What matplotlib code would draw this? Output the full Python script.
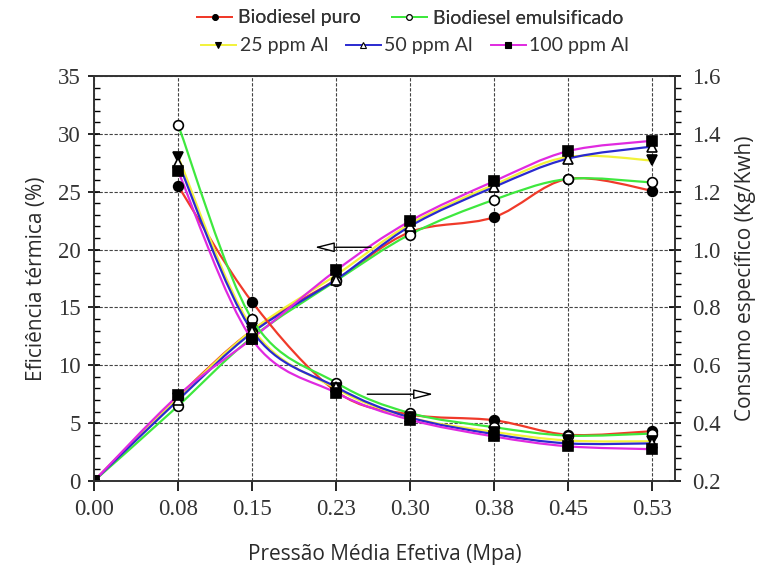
import matplotlib.pyplot as plt
import numpy as np
from matplotlib.path import Path
from matplotlib.patches import PathPatch
from matplotlib.lines import Line2D

# Pressão média efetiva (Mpa)
pressao = [0.00, 0.08, 0.15, 0.23, 0.30, 0.38, 0.45, 0.53]
pressao_labels = ["0.00", "0.08", "0.15", "0.23", "0.30", "0.38", "0.45", "0.53"]

# Eficiência térmica (%)
efic_puro = [0, 7.3, 13.0, 17.4, 21.5, 22.8, 26.1, 25.1]
efic_emuls = [0, 6.5, 12.4, 17.3, 21.3, 24.3, 26.1, 25.8]
efic_25 = [0, 7.2, 13.0, 17.8, 22.2, 25.6, 28.0, 27.7]
efic_50 = [0, 7.0, 12.8, 17.4, 22.0, 25.4, 27.85, 28.9]
efic_100 = [0, 7.4, 12.3, 18.2, 22.45, 25.9, 28.5, 29.4]

# Consumo específico (Kg/Kwh), from 0.08 onwards
cons_puro = [1.22, 0.82, 0.51, 0.43, 0.41, 0.36, 0.372]
cons_emuls = [1.43, 0.76, 0.54, 0.435, 0.386, 0.357, 0.364]
cons_25 = [1.32, 0.73, 0.52, 0.42, 0.37, 0.34, 0.337]
cons_50 = [1.30, 0.72, 0.525, 0.42, 0.362, 0.33, 0.33]
cons_100 = [1.27, 0.69, 0.505, 0.412, 0.354, 0.32, 0.31]

names = ["Biodiesel puro", "Biodiesel emulsificado", "25 ppm Al", "50 ppm Al", "100 ppm Al"]
colors = ['#f03a2a', '#3ee83e', '#f2f23a', '#2a2ad0', '#e02ae0']
markers = ['o', 'o', 'v', '^', 's']
faces = ['black', 'white', 'black', 'white', 'black']

fig = plt.figure(figsize=(7.67, 5.65), dpi=100)
ax = fig.add_axes([94/767, 1-481/565, (675-94)/767, (481-76)/565])
ax2 = ax.twinx()


def smooth(axis, xs, ys, color):
    # catmull-rom spline drawn as bezier path
    p = np.column_stack((xs, ys)).astype(float)
    ext = np.vstack((p[0], p, p[-1]))
    verts = [p[0]]
    codes = [Path.MOVETO]
    for i in range(len(p) - 1):
        p0, p1, p2, p3 = ext[i], ext[i+1], ext[i+2], ext[i+3]
        verts += [p1 + (p2 - p0)/6, p2 - (p3 - p1)/6, p2]
        codes += [Path.CURVE4]*3
    axis.add_patch(PathPatch(Path(verts, codes), fc='none', ec=color, lw=1.6, zorder=3))


effs = [efic_puro, efic_emuls, efic_25, efic_50, efic_100]
cons = [cons_puro, cons_emuls, cons_25, cons_50, cons_100]
for i in range(5):
    smooth(ax, pressao, effs[i], colors[i])
    ax.plot(pressao, effs[i], ls='none', marker=markers[i], ms=7, mfc=faces[i], mec='black', mew=1.2, zorder=4)
    smooth(ax2, pressao[1:], cons[i], colors[i])
    ax2.plot(pressao[1:], cons[i], ls='none', marker=markers[i], ms=7, mfc=faces[i], mec='black', mew=1.2, zorder=4)

ax.set_xlim(0, 0.552)
ax.set_ylim(0, 35)
ax2.set_ylim(0.2, 1.6)
ax.set_xticks(pressao)
ax.set_xticklabels(pressao_labels)
ax.set_yticks(np.arange(0, 36, 5))
ax.set_yticks(np.arange(0, 36, 1), minor=True)
ax2.set_yticks(np.arange(0.2, 1.61, 0.2))
ax2.set_yticks(np.arange(0.2, 1.61, 0.04), minor=True)
ax2.set_yticklabels(["%.1f" % v for v in np.arange(0.2, 1.61, 0.2)])

ax.grid(True, color='#444444', ls=(0, (3, 1.5)), lw=0.8)
ax.set_axisbelow(True)

serif = 'Liberation Serif'
for a in (ax, ax2):
    for lab in a.get_xticklabels() + a.get_yticklabels():
        lab.set_family(serif)
        lab.set_fontsize(16.5)
        lab.set_color('#333333')
    for s in a.spines.values():
        s.set_color('#333333')
        s.set_linewidth(1.2)
ax.tick_params(axis='x', direction='out', length=7, width=1.2, pad=6)
ax.tick_params(axis='y', which='major', direction='inout', length=9, width=1.2, pad=5)
ax.tick_params(axis='y', which='minor', direction='in', length=4, width=1)
ax2.tick_params(axis='y', which='major', direction='inout', length=9, width=1.2, pad=8)
ax2.tick_params(axis='y', which='minor', direction='out', length=4, width=1)

lab_font = dict(family='Open Sans', fontsize=15, color='#2a2a2a')
ax.set_xlabel("Pressão Média Efetiva (Mpa)", labelpad=17, **lab_font)
ax.set_ylabel("Eficiência térmica (%)", labelpad=8, **lab_font)
ax2.set_ylabel("Consumo específico (Kg/Kwh)", labelpad=10, **lab_font)

# arrows pointing to the axes
ax.annotate('', xy=(0.207, 20.2), xytext=(0.266, 20.2),
            arrowprops=dict(arrowstyle='-|>,head_length=1.2,head_width=0.3', fc='white', ec='black', lw=1), zorder=5)
ax2.annotate('', xy=(0.325, 0.50), xytext=(0.257, 0.50),
             arrowprops=dict(arrowstyle='-|>,head_length=1.2,head_width=0.3', fc='white', ec='black', lw=1), zorder=5)

handles = [Line2D([], [], color=colors[i], lw=1.4, marker=markers[i], ms=4,
                  mfc=faces[i], mec='black', mew=0.8) for i in range(5)]
leg_font = dict(family='Lato', size=14)
leg1 = fig.legend(handles[:2], names[:2], ncol=2, loc='center', bbox_to_anchor=(410/767, 1-18/565),
                  frameon=False, prop=leg_font, handlelength=1.8, handletextpad=0.3, columnspacing=1.6,
                  labelcolor='#333333')
leg2 = fig.legend(handles[2:], names[2:], ncol=3, loc='center', bbox_to_anchor=(415/767, 1-46/565),
                  frameon=False, prop=leg_font, handlelength=1.8, handletextpad=0.2, columnspacing=0.9,
                  labelcolor='#333333')
fig.add_artist(leg1)

fig.savefig("out.png", dpi=100)
